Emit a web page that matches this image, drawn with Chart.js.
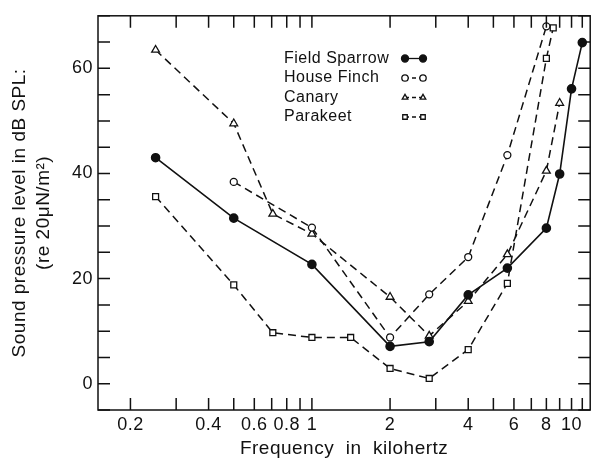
<!DOCTYPE html>
<html>
<head>
<meta charset="utf-8">
<script src="https://cdn.jsdelivr.net/npm/chart.js"></script>
<style>
	body { margin: 0; background: #fff; }
	#wrap { width: 596px; height: 464px; }
</style>
</head>
<body>
<div id="wrap"><canvas id="threshold-chart" width="596" height="464"></canvas></div>
<script>
// audiograms: frequency (kHz) and threshold (dB SPL)
const fieldSparrowFreq = [0.25, 0.5, 1, 2, 2.83, 4, 5.66, 8, 9, 10, 11];
const fieldSparrowDb = [43, 31.5, 22.7, 7.1, 8, 16.9, 22, 29.6, 39.9, 56.1, 64.9];

const houseFinchFreq = [0.5, 1, 2, 2.83, 4, 5.66, 8];
const houseFinchDb = [38.4, 29.7, 8.8, 17, 24.1, 43.5, 68];

const canaryFreq = [0.25, 0.5, 0.707, 1, 2, 2.83, 4, 5.66, 8, 9];
const canaryDb = [63.5, 49.5, 32.3, 28.5, 16.5, 9.1, 15.7, 24.6, 40.5, 53.4];

const parakeetFreq = [0.25, 0.5, 0.707, 1, 1.41, 2, 2.83, 4, 5.66, 8, 8.5];
const parakeetDb = [35.6, 18.8, 9.7, 8.8, 8.8, 2.9, 1, 6.5, 19.1, 61.9, 67.7];

const seriesNames = ["Field Sparrow", "House Finch", "Canary", "Parakeet"];

const xTickValues = [0.2, 0.3, 0.4, 0.5, 0.6, 0.7, 0.8, 0.9, 1, 2, 3, 4, 5, 6, 7, 8, 9, 10, 11];
const xTickLabels = [0.2, 0.4, 0.6, 0.8, 1, 2, 4, 6, 8, 10];
const yTickLabels = [0, 20, 40, 60];

const ink = "#111";
const toPoints = (xs, ys) => xs.map((f, i) => ({ x: f, y: ys[i] }));

Chart.defaults.font.family = "'Liberation Sans', Arial, sans-serif";
Chart.defaults.color = ink;

// frame + inward tick marks on all four sides
const innerTicks = {
	id: "innerTicks",
	beforeDraw(chart) {
		chart.ctx.letterSpacing = "0.5px";
	},
	afterDraw(chart) {
		const { ctx, chartArea: a, scales } = chart;
		const len = 12;
		ctx.save();
		ctx.strokeStyle = ink;
		ctx.lineWidth = 1.5;
		ctx.strokeRect(a.left, a.top, a.right - a.left, a.bottom - a.top);
		ctx.beginPath();
		scales.x.ticks.forEach((t) => {
			const px = scales.x.getPixelForValue(t.value);
			ctx.moveTo(px, a.bottom);
			ctx.lineTo(px, a.bottom - len);
			ctx.moveTo(px, a.top);
			ctx.lineTo(px, a.top + len);
		});
		scales.y.ticks.forEach((t) => {
			const py = scales.y.getPixelForValue(t.value);
			ctx.moveTo(a.left, py);
			ctx.lineTo(a.left + len, py);
			ctx.moveTo(a.right, py);
			ctx.lineTo(a.right - len, py);
		});
		ctx.stroke();
		ctx.restore();
	},
};

function marker(ctx, style, x, y, r, fill) {
	ctx.beginPath();
	if (style === "triangle") {
		ctx.moveTo(x, y - r);
		ctx.lineTo(x + r * 0.866, y + r * 0.5);
		ctx.lineTo(x - r * 0.866, y + r * 0.5);
		ctx.closePath();
	} else if (style === "rect") {
		const s = r * Math.SQRT1_2;
		ctx.rect(x - s, y - s, 2 * s, 2 * s);
	} else {
		ctx.arc(x, y, r, 0, Math.PI * 2);
	}
	ctx.fillStyle = fill;
	ctx.fill();
	ctx.stroke();
}

// legend at the top, text on the left, symbol on the right
const sideLegend = {
	id: "sideLegend",
	afterDraw(chart) {
		const ctx = chart.ctx;
		const rows = [58.5, 78, 97.5, 117];
		ctx.save();
		ctx.font = "16px 'Liberation Sans', Arial, sans-serif";
		ctx.textBaseline = "middle";
		ctx.strokeStyle = ink;
		chart.data.datasets.forEach((ds, i) => {
			const y = rows[i];
			ctx.fillStyle = ink;
			ctx.fillText(ds.label, 284, y);
			ctx.lineWidth = 1.3;
			ctx.setLineDash(ds.borderDash ? [4, 3] : []);
			ctx.beginPath();
			ctx.moveTo(405, y);
			ctx.lineTo(423, y);
			ctx.stroke();
			ctx.setLineDash([]);
			const r = ds.pointBackgroundColor === ink ? 3.5 : 3.2;
			marker(ctx, ds.pointStyle, 405, y, r, ds.pointBackgroundColor);
			marker(ctx, ds.pointStyle, 423, y, r, ds.pointBackgroundColor);
		});
		ctx.restore();
	},
};

const dashed = [8, 5];

new Chart(document.getElementById("threshold-chart"), {
	type: "line",
	data: {
		datasets: [
			{
				label: seriesNames[0],
				data: toPoints(fieldSparrowFreq, fieldSparrowDb),
				borderColor: ink,
				borderWidth: 1.6,
				pointStyle: "circle",
				pointRadius: 4,
				pointBackgroundColor: ink,
				pointBorderColor: ink,
			},
			{
				label: seriesNames[1],
				data: toPoints(houseFinchFreq, houseFinchDb),
				borderColor: ink,
				borderWidth: 1.5,
				borderDash: dashed,
				pointStyle: "circle",
				pointRadius: 3.5,
				pointBorderWidth: 1.3,
				pointBackgroundColor: "#fff",
				pointBorderColor: ink,
			},
			{
				label: seriesNames[2],
				data: toPoints(canaryFreq, canaryDb),
				borderColor: ink,
				borderWidth: 1.5,
				borderDash: dashed,
				pointStyle: "triangle",
				pointRadius: 4.5,
				pointBorderWidth: 1.3,
				pointBackgroundColor: "#fff",
				pointBorderColor: ink,
			},
			{
				label: seriesNames[3],
				data: toPoints(parakeetFreq, parakeetDb),
				borderColor: ink,
				borderWidth: 1.5,
				borderDash: dashed,
				pointStyle: "rect",
				pointRadius: 4.2,
				pointBorderWidth: 1.3,
				pointBackgroundColor: "#fff",
				pointBorderColor: ink,
			},
		],
	},
	plugins: [innerTicks, sideLegend],
	options: {
		responsive: false,
		animation: false,
		devicePixelRatio: 1,
		layout: { padding: { top: 13, right: 3, left: 0, bottom: 0 } },
		elements: { line: { tension: 0 } },
		plugins: {
			legend: { display: false },
			tooltip: { enabled: false },
		},
		scales: {
			x: {
				type: "logarithmic",
				min: 0.15,
				max: 11.8,
				afterBuildTicks: (scale) => {
					scale.ticks = xTickValues.map((v) => ({ value: v }));
				},
				afterFit: (scale) => {
					scale.height = 54;
				},
				grid: { display: false, drawTicks: false, tickLength: 0 },
				border: { display: false },
				ticks: {
					autoSkip: false,
					maxRotation: 0,
					padding: 4,
					font: { size: 18 },
					callback: (v) => (xTickLabels.includes(v) ? String(v) : ""),
				},
				title: {
					display: true,
					text: "Frequency  in  kilohertz",
					font: { size: 19 },
					padding: { top: 0, bottom: 4 },
				},
			},
			y: {
				min: -5,
				max: 70,
				afterFit: (scale) => {
					scale.width = 98;
				},
				grid: { display: false, drawTicks: false, tickLength: 0 },
				border: { display: false },
				ticks: {
					stepSize: 5,
					autoSkip: false,
					padding: 5,
					font: { size: 18 },
					callback: (v) => (yTickLabels.includes(v) ? String(v) : ""),
				},
				title: {
					display: true,
					text: ["Sound pressure level in dB SPL:", "(re 20\u03bcN/m\u00b2)"],
					font: { size: 19, lineHeight: 1.3 },
					padding: { top: 7, bottom: 0 },
				},
			},
		},
	},
});
</script>
</body>
</html>
